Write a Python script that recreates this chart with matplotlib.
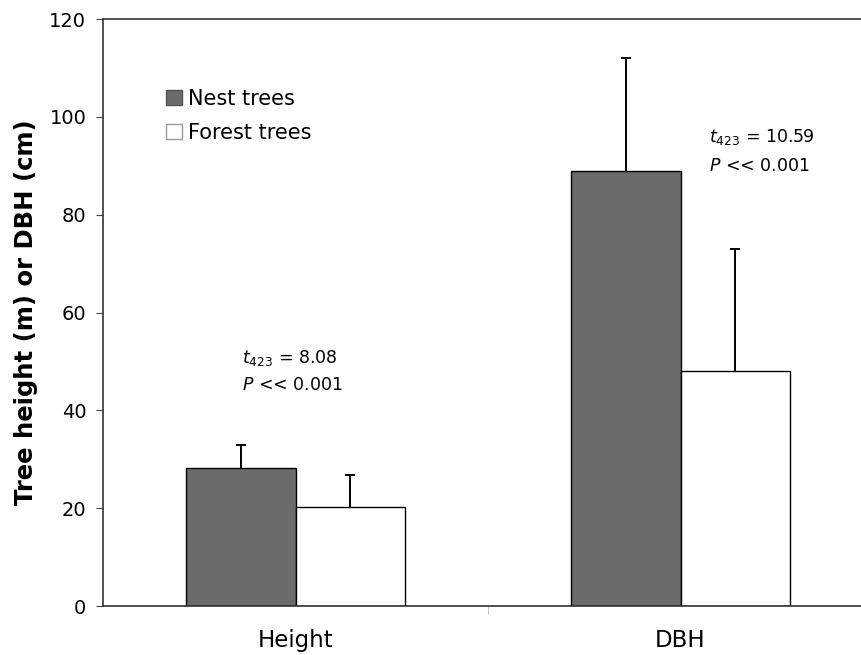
import matplotlib
matplotlib.use("Agg")
import matplotlib.pyplot as plt
import numpy as np
from matplotlib.patches import Patch

categories = ["Height", "DBH"]
nest_means = [28.3, 89.0]
nest_err = [4.6, 23.0]
forest_means = [20.2, 48.0]
forest_err = [6.6, 25.0]
yticks = [0, 20, 40, 60, 80, 100, 120]

plt.rcParams['font.family'] = ['DejaVu Sans']

fig = plt.figure(figsize=(8.61, 6.55), dpi=100)
ax = fig.add_axes([103/861, 1-606/655, 770/861, 587/655])

x = np.arange(len(categories))
w = 0.2857
nest_color = "#6b6b6b"
ax.bar(x - w/2, nest_means, w, color=nest_color, edgecolor="black", linewidth=1.0, zorder=2)
ax.bar(x + w/2, forest_means, w, color="white", edgecolor="black", linewidth=1.0, zorder=2)
for xs, m, e in [(x - w/2, nest_means, nest_err), (x + w/2, forest_means, forest_err)]:
    eb = ax.errorbar(xs, m, yerr=[np.zeros(2), e], fmt="none", ecolor="black",
                     elinewidth=1.4, capsize=3.5, capthick=1.4, zorder=1)
    caps = eb[1]
    if len(caps) == 2:
        caps[0].set_visible(False)

ax.set_xlim(-0.5, 1.5)
ax.set_ylim(0, 120)
ax.set_yticks(yticks)
ax.set_xticks(x)
ax.set_xticklabels(categories, fontsize=16.5)
ax.set_xticks([0.5], minor=True)
ax.tick_params(axis='x', which='major', length=0, pad=16.5)
ax.tick_params(axis='x', which='minor', length=6, color="#bbbbbb", direction='out')
ax.tick_params(axis='y', length=5, color="#444444", labelsize=14, pad=7)

for s in ["left", "top", "bottom"]:
    ax.spines[s].set_color("#333333")
    ax.spines[s].set_linewidth(1.2)
ax.spines["right"].set_visible(False)

ax.set_ylabel("Tree height (m) or DBH (cm)", fontsize=17.5, fontweight="bold", labelpad=8)

handles = [Patch(facecolor=nest_color, edgecolor="#555555", label="Nest trees"),
           Patch(facecolor="white", edgecolor="#999999", label="Forest trees")]
ax.legend(handles=handles, loc="upper left", bbox_to_anchor=(0.0715, 0.895), frameon=False,
          fontsize=15, handlelength=0.75, handleheight=0.75, handletextpad=0.3,
          labelspacing=0.65, borderaxespad=0)

fs = 12.5
ax.text(-0.14, 50.7, r"$\mathit{t}_{\mathit{423}}$ = 8.08", fontsize=fs, ha="left", va="center")
ax.text(-0.14, 45.2, r"$\mathit{P}$ << 0.001", fontsize=fs, ha="left", va="center")
ax.text(1.075, 95.8, r"$\mathit{t}_{\mathit{423}}$ = 10.59", fontsize=fs, ha="left", va="center")
ax.text(1.075, 90.0, r"$\mathit{P}$ << 0.001", fontsize=fs, ha="left", va="center")

fig.savefig("out.png", dpi=100)
